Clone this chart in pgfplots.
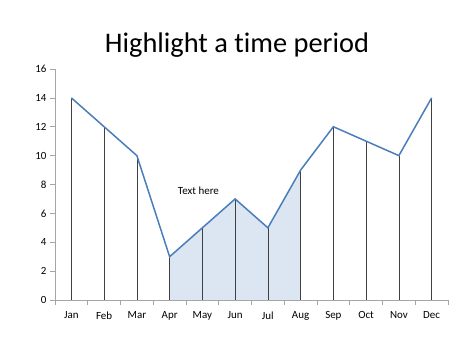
\documentclass[border=0pt]{standalone}
\usepackage{pgfplots}
\pgfplotsset{compat=1.18}
\usepackage{fontspec}
\setmainfont[Ligatures=NoCommon]{Carlito}
\definecolor{serblue}{HTML}{4A7EBB}
\definecolor{fillblue}{HTML}{DCE6F2}
\definecolor{axgray}{HTML}{A6A6A6}
\begin{document}
\begin{tikzpicture}
\useasboundingbox (0,0) rectangle (474bp,355bp);
\node at (237bp,310bp) {\fontsize{28.5}{32}\selectfont Highlight a time period};
\begin{axis}[
  at={(55bp,55bp)}, anchor=south west,
  scale only axis, width=393bp, height=231bp,
  xmin=-0.5, xmax=11.5, ymin=0, ymax=16,
  axis x line*=bottom, axis y line*=left,
  axis line style={axgray, line width=0.6bp, -},
  xtick={0,...,11},
  xticklabels={Jan,Feb,Mar,Apr,May,Jun,Jul,Aug,Sep,Oct,Nov,Dec},
  major x tick style={draw=none},
  minor xtick={-0.5,0.5,...,11.5},
  minor x tick style={axgray, line width=0.6bp},
  ytick={0,2,...,16},
  y tick style={axgray, line width=0.6bp},
  tick align=outside,
  major tick length=5bp, minor tick length=5bp,
  ticklabel style={font=\fontsize{11}{13}\selectfont},
  /pgf/number format/assume math mode=true,
  xticklabel style={yshift=-3bp},
  clip=false,
]
\addplot[fill=fillblue, draw=none] coordinates {(3,0) (3,3) (4,5) (5,7) (6,5) (7,9) (7,0)} -- cycle;
\addplot[ycomb, draw=black!75, line width=0.6bp, mark=none] coordinates {
(0,14) (1,12) (2,10) (3,3) (4,5) (5,7) (6,5) (7,9) (8,12) (9,11) (10,10) (11,14)};
\addplot[serblue, line width=1.5bp, mark=none] coordinates {
(0,14) (1,12) (2,10) (3,3) (4,5) (5,7) (6,5) (7,9) (8,12) (9,11) (10,10) (11,14)};
\node[font=\fontsize{11}{13}\selectfont] at (axis cs:3.88,7.55) {Text here};
\end{axis}
\end{tikzpicture}
\end{document}
